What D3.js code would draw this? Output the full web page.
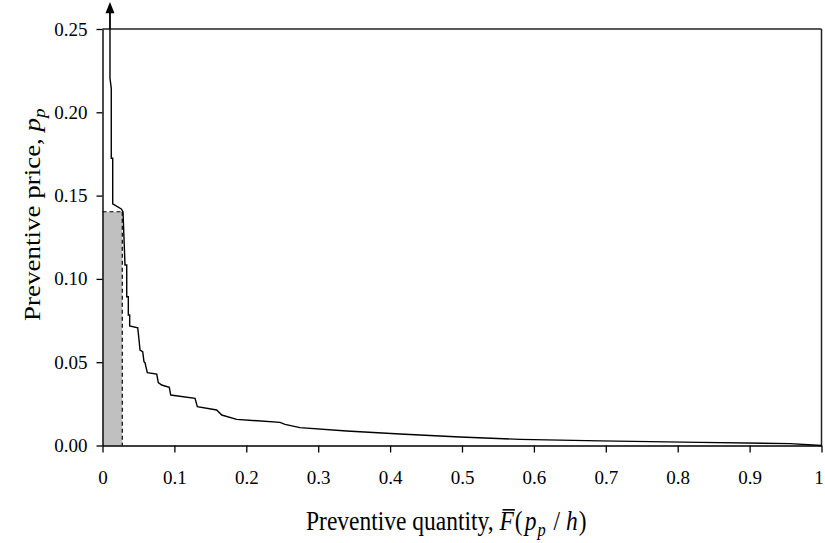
<!DOCTYPE html>
<html><head><meta charset="utf-8">
<script src="https://cdn.jsdelivr.net/npm/d3@7/dist/d3.min.js"></script>
<style>body{margin:0;background:#fff}svg{display:block}text{font-family:"Liberation Serif","Times New Roman",serif;fill:#000}</style>
</head><body>
<svg id="c" width="825" height="543"></svg>
<script>
// ---- data ----
const xTickValues = [0,0.1,0.2,0.3,0.4,0.5,0.6,0.7,0.8,0.9,1];
const xTickLabels = ["0","0.1","0.2","0.3","0.4","0.5","0.6","0.7","0.8","0.9","1"];
const yTickValues = [0,0.05,0.10,0.15,0.20,0.25];
const yTickLabels = ["0.00","0.05","0.10","0.15","0.20","0.25"];
// preventive quantity (x) and preventive price (y) along the curve
const curveQ = [0.0104,0.0104,0.0122,0.0122,0.0142,0.0142,0.0261,0.0285,0.0313,0.0337,0.0337,0.0359,0.0359,0.0378,0.0378,0.0490,0.0508,0.0522,0.0559,0.0577,0.0591,0.0623,0.0754,0.0776,0.0823,0.0929,0.0949,0.1287,0.1319,0.1588,0.1658,0.1866,0.2469,0.2538,0.2747,0.3396,0.4138,0.4972,0.5807,0.6919,0.8310,0.9562,1.0];
const curveP = [0.2500,0.2204,0.2144,0.1724,0.1724,0.1450,0.1420,0.1403,0.1083,0.1083,0.0893,0.0893,0.0783,0.0783,0.0717,0.0707,0.0633,0.0573,0.0563,0.0503,0.0497,0.0437,0.0429,0.0377,0.0363,0.0349,0.0303,0.0283,0.0233,0.0213,0.0183,0.0157,0.0139,0.0127,0.0107,0.0087,0.0069,0.0051,0.0037,0.0028,0.0019,0.0011,0.0];
const shadeQ = 0.0275, shadeP = 0.1403;
const arrowTipP = 0.2662, arrowBaseP = 0.2600;

// ---- layout ----
const svg = d3.select("#c");
const x = d3.scaleLinear().domain([0,1]).range([102.5,821.5]);
const y = d3.scaleLinear().domain([0,0.25]).range([445.5,29]);

// shaded region
svg.append("rect").attr("x",x(0)).attr("y",y(shadeP))
  .attr("width",x(shadeQ)-x(0)).attr("height",y(0)-y(shadeP))
  .attr("fill","#c0c0c0");

// box top & right
svg.append("line").attr("x1",x(0)).attr("x2",x(1)).attr("y1",y(0.25)).attr("y2",y(0.25)).attr("stroke","#222").attr("stroke-width",1.5);
svg.append("line").attr("x1",x(1)).attr("x2",x(1)).attr("y1",y(0.25)).attr("y2",y(0)).attr("stroke","#222").attr("stroke-width",1.5);

// axes
const xAxis = d3.axisBottom(x).tickValues(xTickValues).tickFormat((d,i)=>xTickLabels[i]).tickSizeInner(7).tickSizeOuter(0).tickPadding(18);
const gx = svg.append("g").attr("transform",`translate(0,${y(0)})`).call(xAxis);
const yAxis = d3.axisLeft(y).tickValues(yTickValues).tickFormat((d,i)=>yTickLabels[i]).tickSizeInner(6).tickSizeOuter(0).tickPadding(9);
const gy = svg.append("g").attr("transform",`translate(${x(0)},0)`).call(yAxis);
[gx,gy].forEach(g=>{
  g.select(".domain").attr("stroke","#000").attr("stroke-width",1.4);
  g.selectAll(".tick line").attr("stroke","#000").attr("stroke-width",1.3);
  g.selectAll(".tick text").attr("font-size",19).attr("fill","#000");
});
gx.selectAll(".tick text").filter(d=>d===1).attr("dx",-3);

// dashed lines
svg.append("line").attr("x1",x(0)).attr("x2",x(shadeQ)).attr("y1",y(shadeP)).attr("y2",y(shadeP))
  .attr("stroke","#000").attr("stroke-width",1.2).attr("stroke-dasharray","4,3");
svg.append("line").attr("x1",x(shadeQ)).attr("x2",x(shadeQ)).attr("y1",y(shadeP)).attr("y2",y(0))
  .attr("stroke","#000").attr("stroke-width",1.2).attr("stroke-dasharray","4,3");

// curve
const pts = curveQ.map((q,i)=>[q,curveP[i]]);
svg.append("path").datum(pts)
  .attr("d",d3.line().x(d=>x(d[0])).y(d=>y(d[1])))
  .attr("fill","none").attr("stroke","#000").attr("stroke-width",1.4);

// arrow to infinity
svg.append("line").attr("x1",x(curveQ[0])).attr("x2",x(curveQ[0])).attr("y1",y(curveP[0])).attr("y2",y(arrowBaseP))
  .attr("stroke","#000").attr("stroke-width",1.8);
const ax = x(curveQ[0]);
svg.append("path").attr("d",`M${ax},${y(arrowTipP)}L${ax-4.5},${y(arrowBaseP)+1}L${ax+4.5},${y(arrowBaseP)+1}Z`).attr("fill","#000");

// x title
const xtT = "translate(306,530) scale(1,1.12)";
const xt = svg.append("text").attr("transform",xtT).attr("font-size",23.5);
xt.append("tspan").text("Preventive quantity, ");
xt.append("tspan").attr("font-style","italic").text("F");
xt.append("tspan").attr("dx",1).text("(");
xt.append("tspan").attr("font-style","italic").attr("dx",2).text("p");
xt.append("tspan").attr("font-style","italic").attr("font-size",16.5).attr("dy",5).attr("dx",1).text("p");
xt.append("tspan").attr("dy",-5).attr("dx",2).text(" / ");
xt.append("tspan").attr("font-style","italic").text("h");
xt.append("tspan").attr("dx",1).text(")");
// overline on F
const fIdx = "Preventive quantity, ".length;
const ext = xt.node().getExtentOfChar(fIdx);
svg.append("line").attr("transform",xtT)
  .attr("x1",ext.x+3).attr("x2",ext.x+ext.width+1).attr("y1",-18).attr("y2",-18)
  .attr("stroke","#000").attr("stroke-width",1.4);

// y title
const yt = svg.append("text").attr("transform","translate(40,321) rotate(-90) scale(1.2,1)").attr("font-size",22.5);
yt.append("tspan").text("Preventive price, ");
yt.append("tspan").attr("font-style","italic").text("p");
yt.append("tspan").attr("font-style","italic").attr("font-size",16).attr("dy",5).text("p");
</script>
</body></html>
